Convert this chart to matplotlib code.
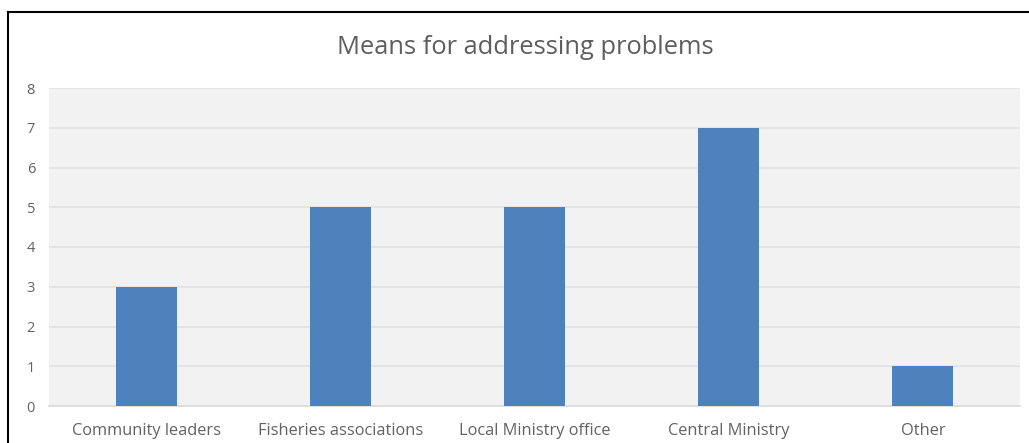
import matplotlib
matplotlib.use("Agg")
import matplotlib.pyplot as plt
from matplotlib.lines import Line2D

categories = ["Community leaders", "Fisheries associations", "Local Ministry office",
              "Central Ministry", "Other"]
counts = [3, 5, 5, 7, 1]
yticks = [0, 1, 2, 3, 4, 5, 6, 7, 8]

plt.rcParams['font.family'] = ['Open Sans', 'DejaVu Sans']

W, H = 1029, 443
fig = plt.figure(figsize=(W / 100, H / 100), dpi=100)
ax = fig.add_axes([49 / W, (H - 406) / H, 971 / W, (406 - 88) / H])

ax.set_facecolor('#f2f2f2')
x = range(len(categories))
ax.bar(x, counts, width=0.315, color='#4f81bd', zorder=3)

ax.set_xlim(-0.5, len(categories) - 0.5)
ax.set_ylim(0, 8)
ax.set_yticks(yticks)
ax.set_xticks(list(x))
ax.set_xticklabels(categories)
ax.yaxis.grid(True, color='#e2e2e2', linewidth=1.2, zorder=0)
ax.set_axisbelow(True)
for s in ['top', 'right', 'left']:
    ax.spines[s].set_visible(False)
ax.spines['bottom'].set_color('#dadada')
ax.spines['bottom'].set_linewidth(1.2)
ax.tick_params(axis='both', length=0, colors='#626262')
ax.tick_params(axis='x', labelsize=11.8, pad=12.5)
ax.tick_params(axis='y', labelsize=10.5, pad=10)

fig.text(525 / W, 1 - 47 / H, "Means for addressing problems", ha='center', va='center',
         fontsize=18.4, color='#5e5e5e')

# outer frame: top and left edges only
fig.add_artist(Line2D([8 / W, 1], [1 - 12 / H, 1 - 12 / H], color='black', linewidth=1.5))
fig.add_artist(Line2D([8 / W, 8 / W], [0, 1 - 12 / H], color='black', linewidth=1.5))

fig.savefig("out.png", dpi=100)
